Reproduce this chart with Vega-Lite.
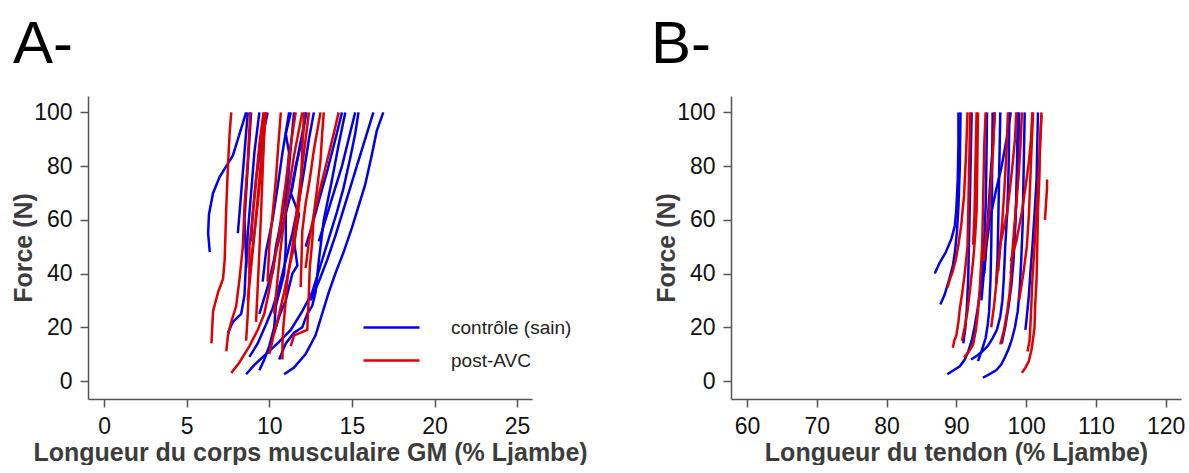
{
  "$schema": "https://vega.github.io/schema/vega-lite/v6.json",
  "padding": {"left": 11, "top": 15, "right": 0, "bottom": 0},
  "background": "white",
  "spacing": 63,
  "config": {
    "view": {"stroke": null},
    "font": "Liberation Sans",
    "axis": {"domainColor": "#555", "domainWidth": 1.5, "tickColor": "#555", "tickWidth": 1.5, "tickSize": 8, "labelFont": "Liberation Sans", "labelFontSize": 23, "labelColor": "#111", "labelPadding": 8, "titleFont": "Liberation Sans", "titleFontSize": 25, "titleFontWeight": "bold", "titleColor": "#3c3c3c", "grid": false},
    "title": {"font": "Liberation Sans", "fontSize": 60, "fontWeight": "normal", "color": "#000", "anchor": "start", "frame": "group", "baseline": "alphabetic"}
  },
  "resolve": {"legend": {"color": "independent"}},
  "datasets": {
    "A": [
      {"g":"contrôle (sain)","c":"a1","x":6.4,"y":48},{"g":"contrôle (sain)","c":"a1","x":6.3,"y":55},{"g":"contrôle (sain)","c":"a1","x":6.35,"y":62},{"g":"contrôle (sain)","c":"a1","x":6.6,"y":70},{"g":"contrôle (sain)","c":"a1","x":7.0,"y":76},{"g":"contrôle (sain)","c":"a1","x":7.4,"y":80},{"g":"contrôle (sain)","c":"a1","x":7.8,"y":84},{"g":"contrôle (sain)","c":"a1","x":8.1,"y":90},{"g":"contrôle (sain)","c":"a1","x":8.4,"y":96},{"g":"contrôle (sain)","c":"a1","x":8.6,"y":100},
      {"g":"contrôle (sain)","c":"a2","x":7.5,"y":18},{"g":"contrôle (sain)","c":"a2","x":7.8,"y":22},{"g":"contrôle (sain)","c":"a2","x":8.3,"y":25},{"g":"contrôle (sain)","c":"a2","x":8.5,"y":32},{"g":"contrôle (sain)","c":"a2","x":8.6,"y":45},{"g":"contrôle (sain)","c":"a2","x":8.5,"y":60},{"g":"contrôle (sain)","c":"a2","x":8.7,"y":80},{"g":"contrôle (sain)","c":"a2","x":8.9,"y":100},
      {"g":"contrôle (sain)","c":"a3","x":8.6,"y":2.5},{"g":"contrôle (sain)","c":"a3","x":9.1,"y":6},{"g":"contrôle (sain)","c":"a3","x":9.8,"y":10},{"g":"contrôle (sain)","c":"a3","x":10.5,"y":14},{"g":"contrôle (sain)","c":"a3","x":11.3,"y":19},{"g":"contrôle (sain)","c":"a3","x":12.0,"y":26},{"g":"contrôle (sain)","c":"a3","x":12.6,"y":33},{"g":"contrôle (sain)","c":"a3","x":13.1,"y":43},{"g":"contrôle (sain)","c":"a3","x":13.6,"y":53},{"g":"contrôle (sain)","c":"a3","x":14.1,"y":63},{"g":"contrôle (sain)","c":"a3","x":14.5,"y":72},{"g":"contrôle (sain)","c":"a3","x":14.9,"y":83},{"g":"contrôle (sain)","c":"a3","x":15.2,"y":92},{"g":"contrôle (sain)","c":"a3","x":15.4,"y":100},
      {"g":"contrôle (sain)","c":"a4","x":10.9,"y":2.5},{"g":"contrôle (sain)","c":"a4","x":11.5,"y":5},{"g":"contrôle (sain)","c":"a4","x":12.2,"y":10},{"g":"contrôle (sain)","c":"a4","x":12.8,"y":17},{"g":"contrôle (sain)","c":"a4","x":13.2,"y":25},{"g":"contrôle (sain)","c":"a4","x":13.6,"y":33},{"g":"contrôle (sain)","c":"a4","x":14.0,"y":40},{"g":"contrôle (sain)","c":"a4","x":14.5,"y":48},{"g":"contrôle (sain)","c":"a4","x":15.0,"y":57},{"g":"contrôle (sain)","c":"a4","x":15.4,"y":65},{"g":"contrôle (sain)","c":"a4","x":15.8,"y":73},{"g":"contrôle (sain)","c":"a4","x":16.2,"y":84},{"g":"contrôle (sain)","c":"a4","x":16.5,"y":93},{"g":"contrôle (sain)","c":"a4","x":16.9,"y":100},
      {"g":"contrôle (sain)","c":"a5","x":8.8,"y":9},{"g":"contrôle (sain)","c":"a5","x":9.3,"y":14},{"g":"contrôle (sain)","c":"a5","x":9.8,"y":21},{"g":"contrôle (sain)","c":"a5","x":10.2,"y":27},{"g":"contrôle (sain)","c":"a5","x":10.6,"y":35},{"g":"contrôle (sain)","c":"a5","x":11.0,"y":45},{"g":"contrôle (sain)","c":"a5","x":11.4,"y":55},{"g":"contrôle (sain)","c":"a5","x":11.8,"y":67},{"g":"contrôle (sain)","c":"a5","x":12.1,"y":78},{"g":"contrôle (sain)","c":"a5","x":12.4,"y":90},{"g":"contrôle (sain)","c":"a5","x":12.7,"y":100},
      {"g":"contrôle (sain)","c":"a6","x":12.5,"y":30},{"g":"contrôle (sain)","c":"a6","x":13.0,"y":37},{"g":"contrôle (sain)","c":"a6","x":13.5,"y":45},{"g":"contrôle (sain)","c":"a6","x":14.0,"y":54},{"g":"contrôle (sain)","c":"a6","x":14.4,"y":62},{"g":"contrôle (sain)","c":"a6","x":14.9,"y":72},{"g":"contrôle (sain)","c":"a6","x":15.4,"y":82},{"g":"contrôle (sain)","c":"a6","x":15.9,"y":92},{"g":"contrôle (sain)","c":"a6","x":16.3,"y":100},
      {"g":"contrôle (sain)","c":"a7","x":9.6,"y":37},{"g":"contrôle (sain)","c":"a7","x":9.8,"y":48},{"g":"contrôle (sain)","c":"a7","x":10.2,"y":60},{"g":"contrôle (sain)","c":"a7","x":10.5,"y":72},{"g":"contrôle (sain)","c":"a7","x":10.8,"y":85},{"g":"contrôle (sain)","c":"a7","x":11.2,"y":100},
      {"g":"contrôle (sain)","c":"a8","x":10.3,"y":18},{"g":"contrôle (sain)","c":"a8","x":10.6,"y":24},{"g":"contrôle (sain)","c":"a8","x":11.0,"y":30},{"g":"contrôle (sain)","c":"a8","x":11.4,"y":40},{"g":"contrôle (sain)","c":"a8","x":11.7,"y":43},{"g":"contrôle (sain)","c":"a8","x":11.5,"y":52},{"g":"contrôle (sain)","c":"a8","x":11.8,"y":62},{"g":"contrôle (sain)","c":"a8","x":11.3,"y":70},{"g":"contrôle (sain)","c":"a8","x":11.6,"y":80},{"g":"contrôle (sain)","c":"a8","x":12.0,"y":90},{"g":"contrôle (sain)","c":"a8","x":12.2,"y":100},
      {"g":"contrôle (sain)","c":"a9","x":8.9,"y":52},{"g":"contrôle (sain)","c":"a9","x":9.0,"y":62},{"g":"contrôle (sain)","c":"a9","x":9.2,"y":75},{"g":"contrôle (sain)","c":"a9","x":9.5,"y":88},{"g":"contrôle (sain)","c":"a9","x":9.9,"y":100},
      {"g":"contrôle (sain)","c":"a10","x":8.1,"y":55},{"g":"contrôle (sain)","c":"a10","x":8.3,"y":70},{"g":"contrôle (sain)","c":"a10","x":8.5,"y":85},{"g":"contrôle (sain)","c":"a10","x":8.7,"y":100},
      {"g":"contrôle (sain)","c":"a11","x":12.2,"y":50},{"g":"contrôle (sain)","c":"a11","x":12.6,"y":58},{"g":"contrôle (sain)","c":"a11","x":13.0,"y":67},{"g":"contrôle (sain)","c":"a11","x":13.5,"y":78},{"g":"contrôle (sain)","c":"a11","x":14.0,"y":90},{"g":"contrôle (sain)","c":"a11","x":14.4,"y":100},
      {"g":"contrôle (sain)","c":"a12","x":13.0,"y":52},{"g":"contrôle (sain)","c":"a12","x":13.4,"y":60},{"g":"contrôle (sain)","c":"a12","x":13.9,"y":70},{"g":"contrôle (sain)","c":"a12","x":14.4,"y":80},{"g":"contrôle (sain)","c":"a12","x":14.8,"y":90},{"g":"contrôle (sain)","c":"a12","x":15.2,"y":100},
      {"g":"contrôle (sain)","c":"a13","x":9.4,"y":4},{"g":"contrôle (sain)","c":"a13","x":9.7,"y":8},{"g":"contrôle (sain)","c":"a13","x":10.0,"y":13},{"g":"contrôle (sain)","c":"a13","x":10.3,"y":20},{"g":"contrôle (sain)","c":"a13","x":10.4,"y":28},{"g":"contrôle (sain)","c":"a13","x":10.7,"y":35},{"g":"contrôle (sain)","c":"a13","x":10.9,"y":40},{"g":"contrôle (sain)","c":"a13","x":11.0,"y":50},{"g":"contrôle (sain)","c":"a13","x":11.0,"y":65},{"g":"contrôle (sain)","c":"a13","x":11.2,"y":80},{"g":"contrôle (sain)","c":"a13","x":11.5,"y":100},
      {"g":"contrôle (sain)","c":"a14","x":9.4,"y":25},{"g":"contrôle (sain)","c":"a14","x":9.9,"y":35},{"g":"contrôle (sain)","c":"a14","x":10.4,"y":48},{"g":"contrôle (sain)","c":"a14","x":10.9,"y":60},{"g":"contrôle (sain)","c":"a14","x":11.4,"y":72},{"g":"contrôle (sain)","c":"a14","x":11.8,"y":86},{"g":"contrôle (sain)","c":"a14","x":12.25,"y":100},
      {"g":"contrôle (sain)","c":"a15","x":8.6,"y":42},{"g":"contrôle (sain)","c":"a15","x":8.7,"y":55},{"g":"contrôle (sain)","c":"a15","x":8.9,"y":70},{"g":"contrôle (sain)","c":"a15","x":9.1,"y":85},{"g":"contrôle (sain)","c":"a15","x":9.4,"y":100},
      {"g":"contrôle (sain)","c":"a16","x":10.6,"y":8},{"g":"contrôle (sain)","c":"a16","x":11.0,"y":14},{"g":"contrôle (sain)","c":"a16","x":11.5,"y":18},{"g":"contrôle (sain)","c":"a16","x":12.0,"y":20},{"g":"contrôle (sain)","c":"a16","x":12.3,"y":25},{"g":"contrôle (sain)","c":"a16","x":12.6,"y":28},{"g":"contrôle (sain)","c":"a16","x":12.8,"y":33},{"g":"contrôle (sain)","c":"a16","x":13.0,"y":45},{"g":"contrôle (sain)","c":"a16","x":13.3,"y":60},{"g":"contrôle (sain)","c":"a16","x":13.8,"y":75},{"g":"contrôle (sain)","c":"a16","x":14.2,"y":88},{"g":"contrôle (sain)","c":"a16","x":14.6,"y":100},
      {"g":"contrôle (sain)","c":"a17","x":10.2,"y":40},{"g":"contrôle (sain)","c":"a17","x":10.4,"y":50},{"g":"contrôle (sain)","c":"a17","x":10.8,"y":62},{"g":"contrôle (sain)","c":"a17","x":11.0,"y":72},{"g":"contrôle (sain)","c":"a17","x":11.2,"y":85},{"g":"contrôle (sain)","c":"a17","x":11.0,"y":92},{"g":"contrôle (sain)","c":"a17","x":11.3,"y":100},
      {"g":"post-AVC","c":"r1","x":6.5,"y":14},{"g":"post-AVC","c":"r1","x":6.55,"y":20},{"g":"post-AVC","c":"r1","x":6.6,"y":26},{"g":"post-AVC","c":"r1","x":6.9,"y":33},{"g":"post-AVC","c":"r1","x":7.2,"y":38},{"g":"post-AVC","c":"r1","x":7.3,"y":45},{"g":"post-AVC","c":"r1","x":7.35,"y":55},{"g":"post-AVC","c":"r1","x":7.4,"y":65},{"g":"post-AVC","c":"r1","x":7.5,"y":80},{"g":"post-AVC","c":"r1","x":7.6,"y":92},{"g":"post-AVC","c":"r1","x":7.7,"y":100},
      {"g":"post-AVC","c":"r2","x":7.4,"y":11},{"g":"post-AVC","c":"r2","x":7.5,"y":17},{"g":"post-AVC","c":"r2","x":7.7,"y":22},{"g":"post-AVC","c":"r2","x":8.0,"y":28},{"g":"post-AVC","c":"r2","x":8.2,"y":38},{"g":"post-AVC","c":"r2","x":8.4,"y":50},{"g":"post-AVC","c":"r2","x":8.5,"y":65},{"g":"post-AVC","c":"r2","x":8.7,"y":82},{"g":"post-AVC","c":"r2","x":8.85,"y":100},
      {"g":"post-AVC","c":"r3","x":7.7,"y":3},{"g":"post-AVC","c":"r3","x":8.2,"y":7},{"g":"post-AVC","c":"r3","x":8.8,"y":13},{"g":"post-AVC","c":"r3","x":9.3,"y":19},{"g":"post-AVC","c":"r3","x":9.7,"y":25},{"g":"post-AVC","c":"r3","x":10.0,"y":34},{"g":"post-AVC","c":"r3","x":10.3,"y":44},{"g":"post-AVC","c":"r3","x":10.6,"y":55},{"g":"post-AVC","c":"r3","x":10.8,"y":65},{"g":"post-AVC","c":"r3","x":11.1,"y":78},{"g":"post-AVC","c":"r3","x":11.3,"y":88},{"g":"post-AVC","c":"r3","x":11.6,"y":100},
      {"g":"post-AVC","c":"r4","x":8.6,"y":15},{"g":"post-AVC","c":"r4","x":8.7,"y":25},{"g":"post-AVC","c":"r4","x":8.8,"y":40},{"g":"post-AVC","c":"r4","x":8.8,"y":50},{"g":"post-AVC","c":"r4","x":9.0,"y":62},{"g":"post-AVC","c":"r4","x":9.2,"y":75},{"g":"post-AVC","c":"r4","x":9.4,"y":88},{"g":"post-AVC","c":"r4","x":9.65,"y":100},
      {"g":"post-AVC","c":"r5","x":8.8,"y":40},{"g":"post-AVC","c":"r5","x":9.0,"y":50},{"g":"post-AVC","c":"r5","x":9.2,"y":60},{"g":"post-AVC","c":"r5","x":9.4,"y":72},{"g":"post-AVC","c":"r5","x":9.6,"y":86},{"g":"post-AVC","c":"r5","x":9.8,"y":100},
      {"g":"post-AVC","c":"r6","x":10.8,"y":8},{"g":"post-AVC","c":"r6","x":10.8,"y":14},{"g":"post-AVC","c":"r6","x":10.85,"y":20},{"g":"post-AVC","c":"r6","x":11.0,"y":30},{"g":"post-AVC","c":"r6","x":11.1,"y":38},{"g":"post-AVC","c":"r6","x":11.4,"y":50},{"g":"post-AVC","c":"r6","x":11.6,"y":60},{"g":"post-AVC","c":"r6","x":11.8,"y":70},{"g":"post-AVC","c":"r6","x":12.0,"y":80},{"g":"post-AVC","c":"r6","x":12.2,"y":90},{"g":"post-AVC","c":"r6","x":12.4,"y":100},
      {"g":"post-AVC","c":"r7","x":11.3,"y":13},{"g":"post-AVC","c":"r7","x":11.5,"y":17},{"g":"post-AVC","c":"r7","x":11.9,"y":18},{"g":"post-AVC","c":"r7","x":12.3,"y":19},{"g":"post-AVC","c":"r7","x":12.35,"y":26},{"g":"post-AVC","c":"r7","x":12.4,"y":33},{"g":"post-AVC","c":"r7","x":12.45,"y":42},{"g":"post-AVC","c":"r7","x":12.6,"y":52},{"g":"post-AVC","c":"r7","x":12.7,"y":62},{"g":"post-AVC","c":"r7","x":12.9,"y":72},{"g":"post-AVC","c":"r7","x":13.1,"y":82},{"g":"post-AVC","c":"r7","x":13.2,"y":92},{"g":"post-AVC","c":"r7","x":13.3,"y":100},
      {"g":"post-AVC","c":"r8","x":11.9,"y":35},{"g":"post-AVC","c":"r8","x":11.95,"y":45},{"g":"post-AVC","c":"r8","x":12.0,"y":56},{"g":"post-AVC","c":"r8","x":12.2,"y":66},{"g":"post-AVC","c":"r8","x":12.45,"y":75},{"g":"post-AVC","c":"r8","x":12.7,"y":86},{"g":"post-AVC","c":"r8","x":13.1,"y":100},
      {"g":"post-AVC","c":"r9","x":10.3,"y":25},{"g":"post-AVC","c":"r9","x":10.5,"y":38},{"g":"post-AVC","c":"r9","x":10.7,"y":50},{"g":"post-AVC","c":"r9","x":10.95,"y":62},{"g":"post-AVC","c":"r9","x":11.2,"y":72},{"g":"post-AVC","c":"r9","x":11.5,"y":84},{"g":"post-AVC","c":"r9","x":12.0,"y":100},
      {"g":"post-AVC","c":"r10","x":12.2,"y":42},{"g":"post-AVC","c":"r10","x":12.4,"y":52},{"g":"post-AVC","c":"r10","x":12.7,"y":62},{"g":"post-AVC","c":"r10","x":13.1,"y":72},{"g":"post-AVC","c":"r10","x":13.5,"y":82},{"g":"post-AVC","c":"r10","x":13.9,"y":92},{"g":"post-AVC","c":"r10","x":14.2,"y":100},
      {"g":"post-AVC","c":"r11","x":9.9,"y":37},{"g":"post-AVC","c":"r11","x":10.0,"y":50},{"g":"post-AVC","c":"r11","x":10.2,"y":62},{"g":"post-AVC","c":"r11","x":10.4,"y":75},{"g":"post-AVC","c":"r11","x":10.55,"y":88},{"g":"post-AVC","c":"r11","x":10.7,"y":100},
      {"g":"post-AVC","c":"r12","x":9.2,"y":22},{"g":"post-AVC","c":"r12","x":9.3,"y":35},{"g":"post-AVC","c":"r12","x":9.4,"y":48},{"g":"post-AVC","c":"r12","x":9.5,"y":62},{"g":"post-AVC","c":"r12","x":9.6,"y":78},{"g":"post-AVC","c":"r12","x":9.75,"y":100},
      {"g":"post-AVC","c":"r13","x":8.7,"y":30},{"g":"post-AVC","c":"r13","x":8.9,"y":42},{"g":"post-AVC","c":"r13","x":9.1,"y":55},{"g":"post-AVC","c":"r13","x":9.3,"y":68},{"g":"post-AVC","c":"r13","x":9.5,"y":82},{"g":"post-AVC","c":"r13","x":9.7,"y":100},
      {"g":"post-AVC","c":"r14","x":10.0,"y":10},{"g":"post-AVC","c":"r14","x":10.3,"y":18},{"g":"post-AVC","c":"r14","x":10.6,"y":25},{"g":"post-AVC","c":"r14","x":10.9,"y":33},{"g":"post-AVC","c":"r14","x":11.2,"y":42},{"g":"post-AVC","c":"r14","x":11.5,"y":50},{"g":"post-AVC","c":"r14","x":11.7,"y":60},{"g":"post-AVC","c":"r14","x":11.9,"y":72},{"g":"post-AVC","c":"r14","x":12.0,"y":86},{"g":"post-AVC","c":"r14","x":12.1,"y":100}
    ],
    "B": [
      {"g":"contrôle (sain)","c":"b1","x":86.9,"y":40},{"g":"contrôle (sain)","c":"b1","x":87.6,"y":44},{"g":"contrôle (sain)","c":"b1","x":88.5,"y":48},{"g":"contrôle (sain)","c":"b1","x":89.3,"y":53},{"g":"contrôle (sain)","c":"b1","x":89.8,"y":58},{"g":"contrôle (sain)","c":"b1","x":90.0,"y":64},{"g":"contrôle (sain)","c":"b1","x":90.2,"y":75},{"g":"contrôle (sain)","c":"b1","x":90.3,"y":88},{"g":"contrôle (sain)","c":"b1","x":90.3,"y":100},
      {"g":"contrôle (sain)","c":"b2","x":87.7,"y":28.5},{"g":"contrôle (sain)","c":"b2","x":88.3,"y":32},{"g":"contrôle (sain)","c":"b2","x":89.0,"y":38},{"g":"contrôle (sain)","c":"b2","x":89.5,"y":43},{"g":"contrôle (sain)","c":"b2","x":89.8,"y":48},{"g":"contrôle (sain)","c":"b2","x":90.1,"y":56},{"g":"contrôle (sain)","c":"b2","x":90.3,"y":65},{"g":"contrôle (sain)","c":"b2","x":90.5,"y":80},{"g":"contrôle (sain)","c":"b2","x":90.6,"y":100},
      {"g":"contrôle (sain)","c":"b3","x":88.7,"y":2.5},{"g":"contrôle (sain)","c":"b3","x":89.6,"y":4},{"g":"contrôle (sain)","c":"b3","x":90.5,"y":5.5},{"g":"contrôle (sain)","c":"b3","x":91.2,"y":8},{"g":"contrôle (sain)","c":"b3","x":91.7,"y":11},{"g":"contrôle (sain)","c":"b3","x":92.2,"y":15},{"g":"contrôle (sain)","c":"b3","x":92.6,"y":20},{"g":"contrôle (sain)","c":"b3","x":93.0,"y":26},{"g":"contrôle (sain)","c":"b3","x":93.4,"y":33},{"g":"contrôle (sain)","c":"b3","x":93.7,"y":40},{"g":"contrôle (sain)","c":"b3","x":94.0,"y":52},{"g":"contrôle (sain)","c":"b3","x":94.2,"y":65},{"g":"contrôle (sain)","c":"b3","x":94.3,"y":80},{"g":"contrôle (sain)","c":"b3","x":94.4,"y":100},
      {"g":"contrôle (sain)","c":"b4","x":93.8,"y":1.2},{"g":"contrôle (sain)","c":"b4","x":94.7,"y":2.5},{"g":"contrôle (sain)","c":"b4","x":95.7,"y":4},{"g":"contrôle (sain)","c":"b4","x":96.4,"y":6},{"g":"contrôle (sain)","c":"b4","x":96.9,"y":8.5},{"g":"contrôle (sain)","c":"b4","x":97.5,"y":12},{"g":"contrôle (sain)","c":"b4","x":97.9,"y":15},{"g":"contrôle (sain)","c":"b4","x":98.4,"y":20},{"g":"contrôle (sain)","c":"b4","x":98.8,"y":26},{"g":"contrôle (sain)","c":"b4","x":99.1,"y":35},{"g":"contrôle (sain)","c":"b4","x":99.3,"y":45},{"g":"contrôle (sain)","c":"b4","x":99.5,"y":58},{"g":"contrôle (sain)","c":"b4","x":99.6,"y":72},{"g":"contrôle (sain)","c":"b4","x":99.7,"y":86},{"g":"contrôle (sain)","c":"b4","x":99.8,"y":100},
      {"g":"contrôle (sain)","c":"b5","x":91.0,"y":14},{"g":"contrôle (sain)","c":"b5","x":91.3,"y":20},{"g":"contrôle (sain)","c":"b5","x":91.5,"y":27},{"g":"contrôle (sain)","c":"b5","x":91.7,"y":38},{"g":"contrôle (sain)","c":"b5","x":91.8,"y":50},{"g":"contrôle (sain)","c":"b5","x":91.9,"y":62},{"g":"contrôle (sain)","c":"b5","x":92.0,"y":75},{"g":"contrôle (sain)","c":"b5","x":92.1,"y":88},{"g":"contrôle (sain)","c":"b5","x":92.2,"y":100},
      {"g":"contrôle (sain)","c":"b6","x":92.1,"y":8},{"g":"contrôle (sain)","c":"b6","x":93.0,"y":9.5},{"g":"contrôle (sain)","c":"b6","x":93.7,"y":11},{"g":"contrôle (sain)","c":"b6","x":94.5,"y":13},{"g":"contrôle (sain)","c":"b6","x":95.2,"y":16},{"g":"contrôle (sain)","c":"b6","x":95.8,"y":19},{"g":"contrôle (sain)","c":"b6","x":96.3,"y":24},{"g":"contrôle (sain)","c":"b6","x":96.6,"y":30},{"g":"contrôle (sain)","c":"b6","x":96.8,"y":38},{"g":"contrôle (sain)","c":"b6","x":97.0,"y":50},{"g":"contrôle (sain)","c":"b6","x":97.3,"y":63},{"g":"contrôle (sain)","c":"b6","x":97.5,"y":80},{"g":"contrôle (sain)","c":"b6","x":97.6,"y":100},
      {"g":"contrôle (sain)","c":"b7","x":93.6,"y":30},{"g":"contrôle (sain)","c":"b7","x":94.0,"y":42},{"g":"contrôle (sain)","c":"b7","x":94.4,"y":55},{"g":"contrôle (sain)","c":"b7","x":94.7,"y":68},{"g":"contrôle (sain)","c":"b7","x":95.0,"y":80},{"g":"contrôle (sain)","c":"b7","x":95.3,"y":90},{"g":"contrôle (sain)","c":"b7","x":95.5,"y":100},
      {"g":"contrôle (sain)","c":"b8","x":99.9,"y":19},{"g":"contrôle (sain)","c":"b8","x":100.1,"y":24},{"g":"contrôle (sain)","c":"b8","x":100.4,"y":32},{"g":"contrôle (sain)","c":"b8","x":100.6,"y":40},{"g":"contrôle (sain)","c":"b8","x":100.9,"y":50},{"g":"contrôle (sain)","c":"b8","x":101.2,"y":62},{"g":"contrôle (sain)","c":"b8","x":101.5,"y":75},{"g":"contrôle (sain)","c":"b8","x":101.6,"y":88},{"g":"contrôle (sain)","c":"b8","x":101.7,"y":100},
      {"g":"contrôle (sain)","c":"b9","x":97.8,"y":40},{"g":"contrôle (sain)","c":"b9","x":98.2,"y":50},{"g":"contrôle (sain)","c":"b9","x":98.5,"y":62},{"g":"contrôle (sain)","c":"b9","x":98.7,"y":75},{"g":"contrôle (sain)","c":"b9","x":98.9,"y":88},{"g":"contrôle (sain)","c":"b9","x":99.0,"y":100},
      {"g":"contrôle (sain)","c":"b10","x":95.7,"y":36},{"g":"contrôle (sain)","c":"b10","x":95.9,"y":45},{"g":"contrôle (sain)","c":"b10","x":96.0,"y":58},{"g":"contrôle (sain)","c":"b10","x":96.1,"y":72},{"g":"contrôle (sain)","c":"b10","x":96.2,"y":86},{"g":"contrôle (sain)","c":"b10","x":96.3,"y":100},
      {"g":"contrôle (sain)","c":"b11","x":93.1,"y":7.4},{"g":"contrôle (sain)","c":"b11","x":93.6,"y":11},{"g":"contrôle (sain)","c":"b11","x":94.2,"y":16},{"g":"contrôle (sain)","c":"b11","x":94.5,"y":21},{"g":"contrôle (sain)","c":"b11","x":94.7,"y":26},{"g":"contrôle (sain)","c":"b11","x":94.9,"y":38},{"g":"contrôle (sain)","c":"b11","x":95.0,"y":50},{"g":"contrôle (sain)","c":"b11","x":95.1,"y":70},{"g":"contrôle (sain)","c":"b11","x":95.2,"y":100},
      {"g":"contrôle (sain)","c":"b12","x":94.0,"y":40},{"g":"contrôle (sain)","c":"b12","x":94.3,"y":50},{"g":"contrôle (sain)","c":"b12","x":94.8,"y":60},{"g":"contrôle (sain)","c":"b12","x":95.6,"y":70},{"g":"contrôle (sain)","c":"b12","x":96.5,"y":80},{"g":"contrôle (sain)","c":"b12","x":97.2,"y":90},{"g":"contrôle (sain)","c":"b12","x":97.8,"y":100},
      {"g":"contrôle (sain)","c":"b13","x":96.5,"y":14},{"g":"contrôle (sain)","c":"b13","x":97.0,"y":20},{"g":"contrôle (sain)","c":"b13","x":97.5,"y":28},{"g":"contrôle (sain)","c":"b13","x":97.9,"y":36},{"g":"contrôle (sain)","c":"b13","x":98.2,"y":45},{"g":"contrôle (sain)","c":"b13","x":98.4,"y":55},{"g":"contrôle (sain)","c":"b13","x":98.6,"y":68},{"g":"contrôle (sain)","c":"b13","x":98.7,"y":82},{"g":"contrôle (sain)","c":"b13","x":98.8,"y":100},
      {"g":"post-AVC","c":"s1","x":89.5,"y":12.4},{"g":"post-AVC","c":"s1","x":89.7,"y":15},{"g":"post-AVC","c":"s1","x":90.0,"y":17},{"g":"post-AVC","c":"s1","x":90.3,"y":22},{"g":"post-AVC","c":"s1","x":90.5,"y":27},{"g":"post-AVC","c":"s1","x":90.8,"y":32},{"g":"post-AVC","c":"s1","x":91.2,"y":40},{"g":"post-AVC","c":"s1","x":91.6,"y":50},{"g":"post-AVC","c":"s1","x":91.7,"y":62},{"g":"post-AVC","c":"s1","x":91.8,"y":75},{"g":"post-AVC","c":"s1","x":91.9,"y":88},{"g":"post-AVC","c":"s1","x":92.0,"y":100},
      {"g":"post-AVC","c":"s2","x":88.7,"y":34.7},{"g":"post-AVC","c":"s2","x":89.1,"y":38},{"g":"post-AVC","c":"s2","x":89.5,"y":41},{"g":"post-AVC","c":"s2","x":89.9,"y":45},{"g":"post-AVC","c":"s2","x":90.3,"y":50.7},{"g":"post-AVC","c":"s2","x":90.7,"y":58},{"g":"post-AVC","c":"s2","x":91.1,"y":69},{"g":"post-AVC","c":"s2","x":91.4,"y":85},{"g":"post-AVC","c":"s2","x":91.6,"y":100},
      {"g":"post-AVC","c":"s3","x":91.1,"y":8.7},{"g":"post-AVC","c":"s3","x":91.8,"y":11},{"g":"post-AVC","c":"s3","x":92.4,"y":13.6},{"g":"post-AVC","c":"s3","x":92.8,"y":19},{"g":"post-AVC","c":"s3","x":93.1,"y":26},{"g":"post-AVC","c":"s3","x":93.4,"y":36},{"g":"post-AVC","c":"s3","x":93.7,"y":50.7},{"g":"post-AVC","c":"s3","x":93.8,"y":62},{"g":"post-AVC","c":"s3","x":93.9,"y":75.5},{"g":"post-AVC","c":"s3","x":94.0,"y":88},{"g":"post-AVC","c":"s3","x":94.2,"y":100},
      {"g":"post-AVC","c":"s4","x":90.8,"y":15},{"g":"post-AVC","c":"s4","x":91.2,"y":20},{"g":"post-AVC","c":"s4","x":91.6,"y":26},{"g":"post-AVC","c":"s4","x":92.0,"y":35},{"g":"post-AVC","c":"s4","x":92.4,"y":44.6},{"g":"post-AVC","c":"s4","x":92.7,"y":54},{"g":"post-AVC","c":"s4","x":92.9,"y":63},{"g":"post-AVC","c":"s4","x":93.0,"y":80},{"g":"post-AVC","c":"s4","x":93.1,"y":100},
      {"g":"post-AVC","c":"s5","x":96.3,"y":13.6},{"g":"post-AVC","c":"s5","x":96.8,"y":18.6},{"g":"post-AVC","c":"s5","x":97.3,"y":26},{"g":"post-AVC","c":"s5","x":97.6,"y":32},{"g":"post-AVC","c":"s5","x":97.8,"y":38},{"g":"post-AVC","c":"s5","x":98.0,"y":47},{"g":"post-AVC","c":"s5","x":98.3,"y":57},{"g":"post-AVC","c":"s5","x":98.6,"y":66},{"g":"post-AVC","c":"s5","x":98.9,"y":75.5},{"g":"post-AVC","c":"s5","x":99.2,"y":88},{"g":"post-AVC","c":"s5","x":99.4,"y":100},
      {"g":"post-AVC","c":"s6","x":99.4,"y":3},{"g":"post-AVC","c":"s6","x":99.9,"y":5},{"g":"post-AVC","c":"s6","x":100.4,"y":7.4},{"g":"post-AVC","c":"s6","x":100.8,"y":12},{"g":"post-AVC","c":"s6","x":101.2,"y":19.8},{"g":"post-AVC","c":"s6","x":101.3,"y":28},{"g":"post-AVC","c":"s6","x":101.5,"y":38},{"g":"post-AVC","c":"s6","x":101.6,"y":50},{"g":"post-AVC","c":"s6","x":101.7,"y":63},{"g":"post-AVC","c":"s6","x":101.9,"y":76},{"g":"post-AVC","c":"s6","x":102.0,"y":88},{"g":"post-AVC","c":"s6","x":102.2,"y":100},
      {"g":"post-AVC","c":"s7","x":102.7,"y":60},{"g":"post-AVC","c":"s7","x":102.8,"y":64},{"g":"post-AVC","c":"s7","x":102.9,"y":68},{"g":"post-AVC","c":"s7","x":103.0,"y":72},{"g":"post-AVC","c":"s7","x":103.0,"y":75},
      {"g":"post-AVC","c":"s8","x":100.2,"y":11},{"g":"post-AVC","c":"s8","x":100.5,"y":15},{"g":"post-AVC","c":"s8","x":100.7,"y":25},{"g":"post-AVC","c":"s8","x":100.9,"y":38},{"g":"post-AVC","c":"s8","x":101.2,"y":50},{"g":"post-AVC","c":"s8","x":101.5,"y":63},{"g":"post-AVC","c":"s8","x":101.8,"y":76},{"g":"post-AVC","c":"s8","x":102.0,"y":88},{"g":"post-AVC","c":"s8","x":102.2,"y":99},
      {"g":"post-AVC","c":"s9","x":96.0,"y":40.8},{"g":"post-AVC","c":"s9","x":96.3,"y":50.7},{"g":"post-AVC","c":"s9","x":96.8,"y":57},{"g":"post-AVC","c":"s9","x":97.3,"y":63},{"g":"post-AVC","c":"s9","x":97.7,"y":72},{"g":"post-AVC","c":"s9","x":98.1,"y":81.7},{"g":"post-AVC","c":"s9","x":98.4,"y":90},{"g":"post-AVC","c":"s9","x":98.6,"y":100},
      {"g":"post-AVC","c":"s10","x":93.9,"y":44.6},{"g":"post-AVC","c":"s10","x":94.3,"y":54},{"g":"post-AVC","c":"s10","x":94.7,"y":63},{"g":"post-AVC","c":"s10","x":95.0,"y":75},{"g":"post-AVC","c":"s10","x":95.3,"y":88},{"g":"post-AVC","c":"s10","x":95.5,"y":100},
      {"g":"post-AVC","c":"s11","x":97.8,"y":44.6},{"g":"post-AVC","c":"s11","x":98.6,"y":52},{"g":"post-AVC","c":"s11","x":99.4,"y":63},{"g":"post-AVC","c":"s11","x":99.9,"y":72},{"g":"post-AVC","c":"s11","x":100.4,"y":81.7},{"g":"post-AVC","c":"s11","x":100.7,"y":90},{"g":"post-AVC","c":"s11","x":100.9,"y":100},
      {"g":"post-AVC","c":"s12","x":92.4,"y":50.7},{"g":"post-AVC","c":"s12","x":92.6,"y":62},{"g":"post-AVC","c":"s12","x":92.7,"y":75},{"g":"post-AVC","c":"s12","x":92.8,"y":88},{"g":"post-AVC","c":"s12","x":92.9,"y":100},
      {"g":"post-AVC","c":"s13","x":95.0,"y":20},{"g":"post-AVC","c":"s13","x":95.4,"y":28},{"g":"post-AVC","c":"s13","x":95.8,"y":38},{"g":"post-AVC","c":"s13","x":96.2,"y":48},{"g":"post-AVC","c":"s13","x":96.6,"y":60},{"g":"post-AVC","c":"s13","x":96.9,"y":72},{"g":"post-AVC","c":"s13","x":97.2,"y":86},{"g":"post-AVC","c":"s13","x":97.4,"y":100},
      {"g":"post-AVC","c":"s14","x":99.0,"y":30},{"g":"post-AVC","c":"s14","x":99.6,"y":40},{"g":"post-AVC","c":"s14","x":100.1,"y":50},{"g":"post-AVC","c":"s14","x":100.4,"y":62},{"g":"post-AVC","c":"s14","x":100.6,"y":75},{"g":"post-AVC","c":"s14","x":100.8,"y":88},{"g":"post-AVC","c":"s14","x":101.0,"y":100}
    ]
  },
  "hconcat": [
    {
      "title": {"text": "A-", "dx": -75, "offset": 20},
      "width": 444,
      "height": 303,
      "data": {"name": "A"},
      "mark": {"type": "line", "strokeWidth": 2.5, "clip": true},
      "encoding": {
        "x": {"field": "x", "type": "quantitative", "scale": {"domain": [-0.97, 25.9], "nice": false, "zero": false}, "axis": {"values": [0, 5, 10, 15, 20, 25], "title": "Longueur du corps musculaire GM (% Ljambe)", "titlePadding": 2}},
        "y": {"field": "y", "type": "quantitative", "scale": {"domain": [-6.7, 106.1], "nice": false, "zero": false}, "axis": {"values": [0, 20, 40, 60, 80, 100], "title": "Force (N)", "titlePadding": -3}},
        "color": {"field": "g", "type": "nominal", "scale": {"domain": ["contrôle (sain)", "post-AVC"], "range": ["#0000ee", "#e00000"]}, "legend": {"orient": "none", "legendX": 294, "legendY": 222, "title": null, "symbolType": "M-4,0H4", "symbolSize": 196, "symbolStrokeWidth": 2.5, "labelFont": "Liberation Sans", "labelFontSize": 19, "labelColor": "#222", "labelOffset": 50, "rowPadding": 13, "padding": 0}},
        "detail": {"field": "c"},
        "order": {"field": "y", "type": "quantitative"}
      }
    },
    {
      "title": {"text": "B-", "dx": -80, "offset": 20},
      "width": 450,
      "height": 303,
      "data": {"name": "B"},
      "mark": {"type": "line", "strokeWidth": 2.5, "clip": true},
      "encoding": {
        "x": {"field": "x", "type": "quantitative", "scale": {"domain": [57.7, 122.2], "nice": false, "zero": false}, "axis": {"values": [60, 70, 80, 90, 100, 110, 120], "title": "Longueur du tendon (% Ljambe)", "titlePadding": 2}},
        "y": {"field": "y", "type": "quantitative", "scale": {"domain": [-6.7, 106.1], "nice": false, "zero": false}, "axis": {"values": [0, 20, 40, 60, 80, 100], "title": "Force (N)", "titlePadding": -3}},
        "color": {"field": "g", "type": "nominal", "scale": {"domain": ["contrôle (sain)", "post-AVC"], "range": ["#0000ee", "#e00000"]}, "legend": null},
        "detail": {"field": "c"},
        "order": {"field": "y", "type": "quantitative"}
      }
    }
  ]
}
